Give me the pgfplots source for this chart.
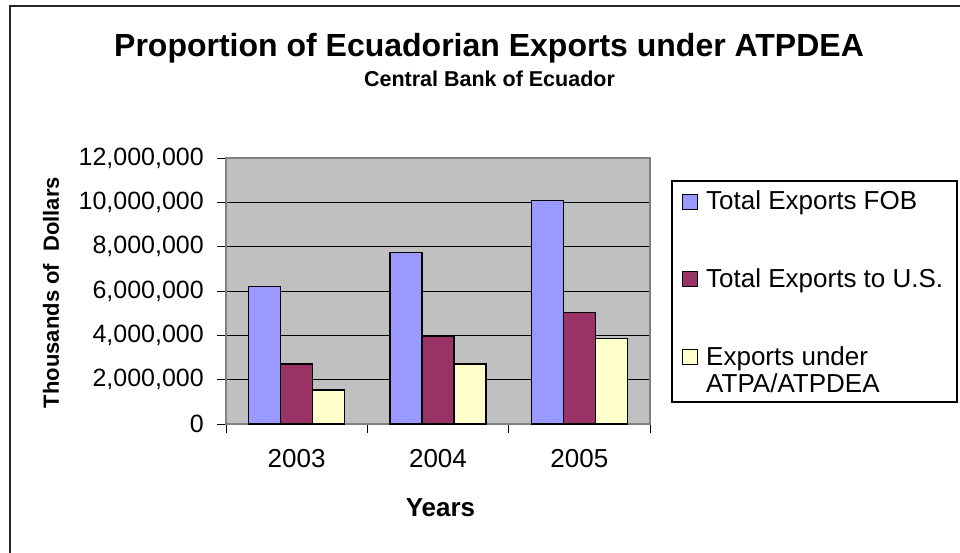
\documentclass[border=0pt]{standalone}
\usepackage{fontspec}
\setmainfont{Liberation Sans}
\usepackage{pgfplots}
\pgfplotsset{compat=1.18}
\definecolor{fob}{HTML}{9999FF}
\definecolor{us}{HTML}{993366}
\definecolor{atp}{HTML}{FFFFCC}
\definecolor{plotbg}{HTML}{C0C0C0}
\definecolor{framegray}{HTML}{808080}
\begin{document}
\begin{tikzpicture}[x=1pt,y=1pt]
\path[use as bounding box] (0,0) rectangle (960,-553);
\draw[line width=2pt, color=black!85] (10,-553) -- (10,-6) -- (960,-6);
\begin{axis}[
  at={(226pt,-424pt)}, anchor=south west,
  scale only axis, width=424pt, height=266pt,
  xmin=-0.5, xmax=2.5, ymin=0, ymax=12000000,
  ybar=0pt, bar width=32pt,
  axis background/.style={fill=plotbg},
  axis line style={draw=framegray, line width=1.3pt},
  ymajorgrids, xmajorgrids=false, grid style={black, line width=0.8pt},
  ytick={0,2000000,4000000,6000000,8000000,10000000,12000000},
  scaled y ticks=false,
  /pgf/number format/assume math mode=true,
  yticklabel style={/pgf/number format/fixed, /pgf/number format/1000 sep={,}, font=\fontsize{25}{29}\selectfont, inner sep=0pt, xshift=-13pt},
  xtick={-0.5,0.5,1.5,2.5}, xticklabels={},
  extra x ticks={0,1,2}, extra x tick labels={2003,2004,2005},
  extra x tick style={grid=none, major tick length=0pt},
  xticklabel style={font=\fontsize{26}{30}\selectfont, inner sep=0pt, yshift=-25pt},
  tick align=outside, tick pos=left, major tick length=9pt,
  tick style={black, line width=0.8pt},
  every axis plot/.append style={draw=black, line width=1.5pt,
    legend image code/.code={\draw[##1, line width=1pt] (0pt,-7.5pt) rectangle (15pt,7.5pt);}},
  legend cell align=left,
  legend style={at={(axis description cs:1.0755,0.8665)}, anchor=north west,
    draw=none, fill=none, inner sep=0pt, row sep=61.75pt, column sep=8pt,
    font=\fontsize{26}{27}\selectfont,
    nodes={inner sep=0pt, anchor=west, text height=16pt, text depth=0pt}},
]
\addplot[fill=fob] coordinates {(0,6210000) (1,7740000) (2,10080000)};
\addlegendentry{Total Exports FOB}
\addplot[fill=us] coordinates {(0,2700000) (1,3950000) (2,5030000)};
\addlegendentry{Total Exports to U.S.}
\addplot[fill=atp] coordinates {(0,1530000) (1,2700000) (2,3860000)};
\addlegendentry{\raisebox{0pt}[16pt][0pt]{\begin{tabular}[t]{@{}l@{}}Exports under\\ATPA/ATPDEA\end{tabular}}}
\end{axis}
\draw[line width=1.2pt, black] (672,-181) rectangle (957,-402);
\node[anchor=base, font=\fontsize{32}{36}\selectfont\bfseries] at (489,-57) {Proportion of Ecuadorian Exports under ATPDEA};
\node[anchor=base, font=\fontsize{21.5}{24}\selectfont\bfseries] at (489.5,-87) {Central Bank of Ecuador};
\node[rotate=90, anchor=center, font=\fontsize{22}{26}\selectfont\bfseries] at (51,-292.5) {Thousands of\ \ Dollars};
\node[anchor=base, font=\fontsize{26}{30}\selectfont\bfseries] at (440.5,-516.7) {Years};
\end{tikzpicture}
\end{document}
